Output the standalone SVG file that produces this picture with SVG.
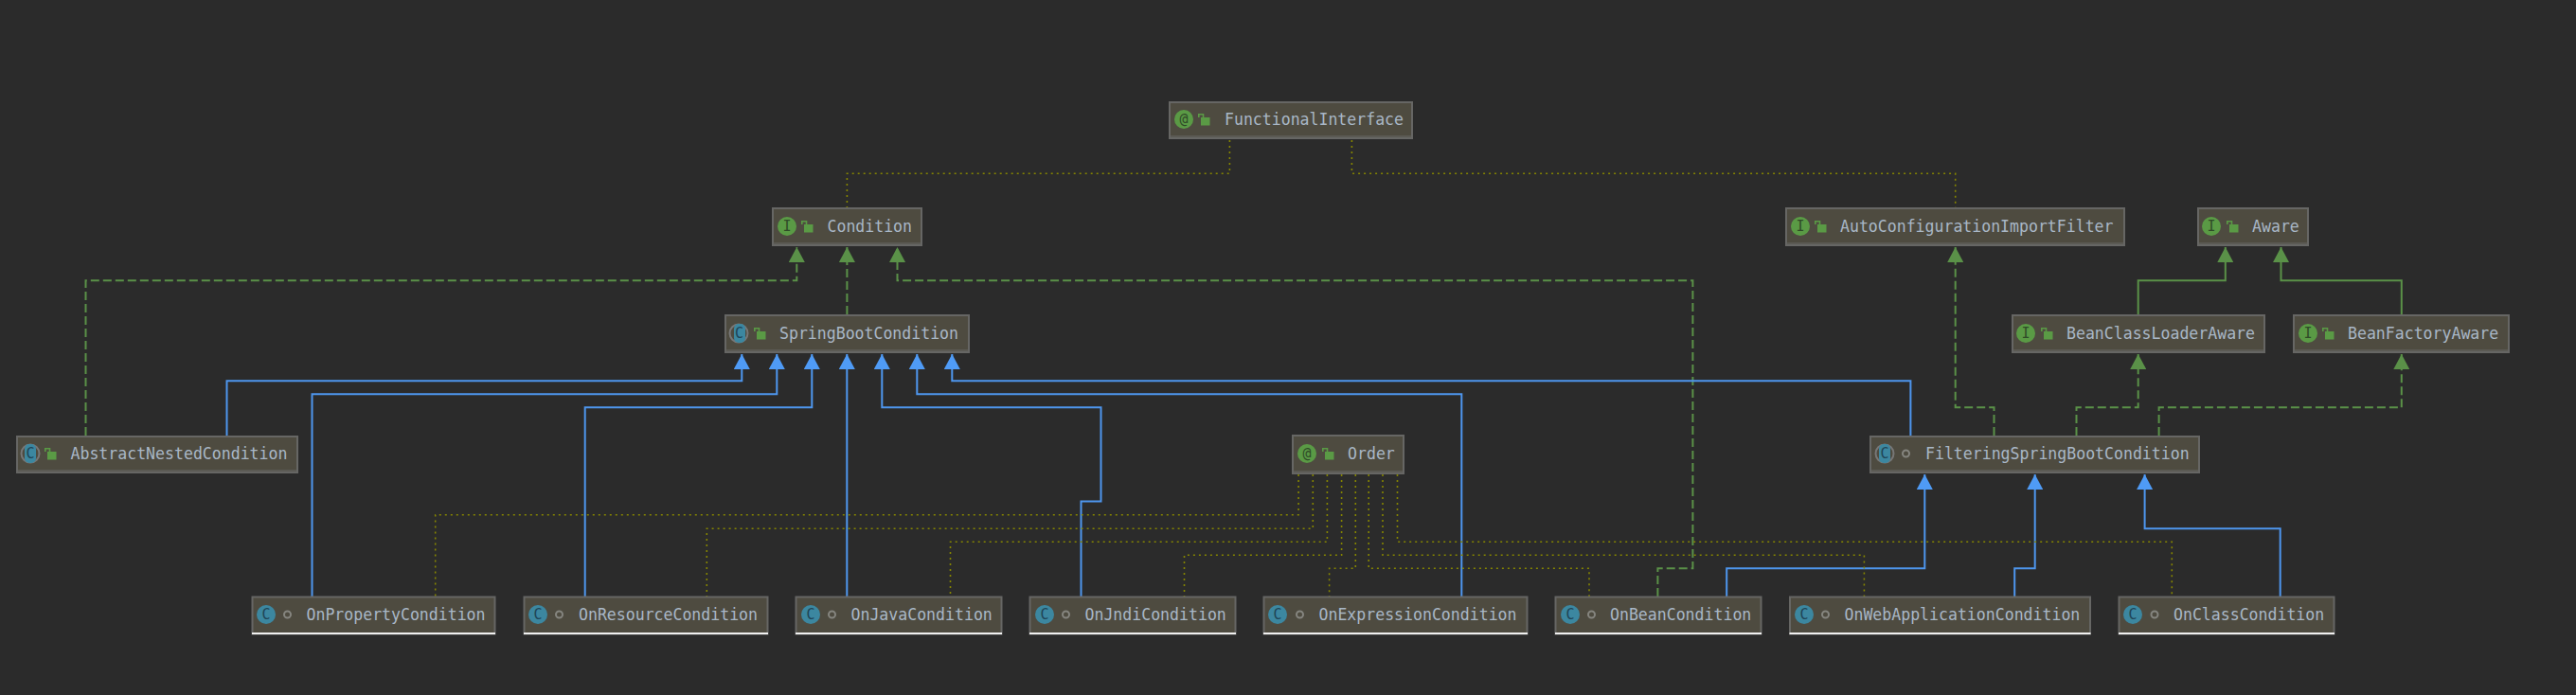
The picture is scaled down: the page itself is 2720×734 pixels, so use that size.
<svg xmlns="http://www.w3.org/2000/svg" width="2720" height="734" viewBox="0 0 2720 734">
<style>
.bg{fill:#2b2b2b}
.box{fill:#4e4b40;stroke:#666664;stroke-width:2}
.strip{stroke:#5b5a54;stroke-width:2}
.under{stroke:#f0f0f0;stroke-width:2}
.name{font-family:"DejaVu Sans Mono","Liberation Mono",monospace;font-size:17.6px;fill:#a9b7c6}
.gl{font-family:"DejaVu Sans Mono","Liberation Mono",monospace;font-size:15px;text-anchor:middle}
.gi{fill:#5a9a45}.gt{fill:#2f4a28}
.ti{fill:#3c87a0}.tt{fill:#1f4456}
.par{fill:none;stroke:#777;stroke-width:2}
.lockb{fill:#5a9a45}.lockh{fill:none;stroke:#5a9a45;stroke-width:1.6}
.pkg{fill:none;stroke:#85857f;stroke-width:2}
.c{fill:none}
.ext{stroke:#4e96ee;stroke-width:2;marker-end:url(#ab)}
.ii{stroke:#5a9148;stroke-width:2;marker-end:url(#ag)}
.imp{stroke:#5a9148;stroke-width:2;stroke-dasharray:9 4;marker-end:url(#ag)}
.dep{stroke:#858500;stroke-width:1.6;stroke-dasharray:2 4}
</style>
<defs>
<marker id="ab" markerUnits="userSpaceOnUse" markerWidth="16" markerHeight="17" refX="16" refY="8.5" orient="auto"><path d="M0 0L16 8.500L0 17Z" fill="#4f9bf6"/></marker>
<marker id="ag" markerUnits="userSpaceOnUse" markerWidth="16" markerHeight="17" refX="16" refY="8.500" orient="auto"><path d="M0 0L16 8.500L0 17Z" fill="#5a9148"/></marker>
<g id="lock"><rect class="lockb" x="3" y="4" width="9.500" height="8.500"/><path class="lockh" d="M0.800 4V0.800H5.500V4"/></g>
<circle id="pk" class="pkg" r="3.500"/>
</defs>
<rect class="bg" width="2720" height="734"/>
<g id="connectors">
<path class="c dep" d="M1298.400 148V183.300H894.400V219"/>
<path class="c dep" d="M1427.400 148V183.300H2064.700V219"/>
<path class="c imp" d="M90.500 460V296.300H841.300V261"/>
<path class="c imp" d="M894.400 332V261"/>
<path class="c imp" d="M1750.400 630V600.300H1787.400V296.300H947.500V261"/>
<path class="c ext" d="M239.500 460V402.300H783.300V374"/>
<path class="c ext" d="M329.500 630V416.300H820.300V374"/>
<path class="c ext" d="M617.700 630V430.300H857.300V374"/>
<path class="c ext" d="M894.300 630V374"/>
<path class="c ext" d="M1141.500 630V529.500H1162.500V430.300H931.300V374"/>
<path class="c ext" d="M1543.300 630V416.300H968.300V374"/>
<path class="c ext" d="M2017.400 460V402.300H1005.300V374"/>
<path class="c ext" d="M1823.200 630V600.300H2032.300V501"/>
<path class="c ext" d="M2127.200 630V600.300H2148.700V501"/>
<path class="c ext" d="M2407.700 630V558.300H2264.600V501"/>
<path class="c ii" d="M2257.700 332V296.300H2349.800V261"/>
<path class="c ii" d="M2535.800 332V296.300H2408.500V261"/>
<path class="c imp" d="M2105.500 460V430.300H2064.700V261"/>
<path class="c imp" d="M2192.500 460V430.300H2257.700V374"/>
<path class="c imp" d="M2279.600 460V430.300H2535.800V374"/>
<path class="c dep" d="M1371.100 501V543.700H459.700V630"/>
<path class="c dep" d="M1386.300 501V558.300H746.300V630"/>
<path class="c dep" d="M1401.400 501V572.300H1003.500V630"/>
<path class="c dep" d="M1416.600 501V586.300H1250.500V630"/>
<path class="c dep" d="M1431.300 501V600.300H1403.600V630"/>
<path class="c dep" d="M1445.200 501V600.300H1678V630"/>
<path class="c dep" d="M1460 501V586.300H1968.400V630"/>
<path class="c dep" d="M1475.500 501V572.300H2293.300V630"/>
</g>
<g id="FunctionalInterface"><rect class="box" x="1235" y="108" width="256" height="38"/><path class="strip" d="M1236 144H1490"/><circle class="gi" cx="1250" cy="126" r="10"/><text class="gl gt" x="1250" y="131">@</text><use href="#lock" x="1265" y="120"/><text class="name" x="1293" y="132" textLength="189" lengthAdjust="spacingAndGlyphs">FunctionalInterface</text></g>
<g id="Condition"><rect class="box" x="816" y="220" width="157" height="39"/><path class="strip" d="M817 257H972"/><circle class="gi" cx="831" cy="239" r="10"/><text class="gl gt" x="831" y="244">I</text><use href="#lock" x="846" y="233"/><text class="name" x="873.500" y="245" textLength="89.500" lengthAdjust="spacingAndGlyphs">Condition</text></g>
<g id="AutoConfigurationImportFilter"><rect class="box" x="1886" y="220" width="357" height="39"/><path class="strip" d="M1887 257H2242"/><circle class="gi" cx="1901" cy="239" r="10"/><text class="gl gt" x="1901" y="244">I</text><use href="#lock" x="1916" y="233"/><text class="name" x="1943" y="245" textLength="288.500" lengthAdjust="spacingAndGlyphs">AutoConfigurationImportFilter</text></g>
<g id="Aware"><rect class="box" x="2321" y="220" width="116" height="39"/><path class="strip" d="M2322 257H2436"/><circle class="gi" cx="2335" cy="239" r="10"/><text class="gl gt" x="2335" y="244">I</text><use href="#lock" x="2351" y="233"/><text class="name" x="2378" y="245" textLength="49.800" lengthAdjust="spacingAndGlyphs">Aware</text></g>
<g id="SpringBootCondition"><rect class="box" x="766" y="333" width="257" height="39"/><path class="strip" d="M767 370H1022"/><circle class="par" cx="780" cy="352" r="9.500"/><rect class="ti" x="775" y="342" width="12" height="20" rx="5"/><text class="gl tt" x="780.500" y="357">C</text><use href="#lock" x="796" y="346"/><text class="name" x="823" y="358" textLength="189" lengthAdjust="spacingAndGlyphs">SpringBootCondition</text></g>
<g id="BeanClassLoaderAware"><rect class="box" x="2125" y="333" width="266" height="39"/><path class="strip" d="M2126 370H2390"/><circle class="gi" cx="2139" cy="352" r="10"/><text class="gl gt" x="2139" y="357">I</text><use href="#lock" x="2155" y="346"/><text class="name" x="2182" y="358" textLength="199" lengthAdjust="spacingAndGlyphs">BeanClassLoaderAware</text></g>
<g id="BeanFactoryAware"><rect class="box" x="2422" y="333" width="227" height="39"/><path class="strip" d="M2423 370H2648"/><circle class="gi" cx="2437" cy="352" r="10"/><text class="gl gt" x="2437" y="357">I</text><use href="#lock" x="2452" y="346"/><text class="name" x="2479" y="358" textLength="159.200" lengthAdjust="spacingAndGlyphs">BeanFactoryAware</text></g>
<g id="AbstractNestedCondition"><rect class="box" x="18" y="461" width="296" height="38"/><path class="strip" d="M19 497H313"/><circle class="par" cx="32" cy="479" r="9.500"/><rect class="ti" x="26" y="469" width="12" height="20" rx="5"/><text class="gl tt" x="32" y="484">C</text><use href="#lock" x="47" y="473"/><text class="name" x="74.500" y="485" textLength="228.900" lengthAdjust="spacingAndGlyphs">AbstractNestedCondition</text></g>
<g id="Order"><rect class="box" x="1365" y="460" width="117" height="40"/><path class="strip" d="M1366 498H1481"/><circle class="gi" cx="1380" cy="479" r="10"/><text class="gl gt" x="1380" y="484">@</text><use href="#lock" x="1396" y="473"/><text class="name" x="1423" y="485" textLength="49.800" lengthAdjust="spacingAndGlyphs">Order</text></g>
<g id="FilteringSpringBootCondition"><rect class="box" x="1975" y="461" width="347" height="38"/><path class="strip" d="M1976 497H2321"/><circle class="par" cx="1990" cy="479" r="9.500"/><rect class="ti" x="1984" y="469" width="12" height="20" rx="5"/><text class="gl tt" x="1990" y="484">C</text><use href="#pk" x="2012.500" y="479"/><text class="name" x="2033" y="485" textLength="278.600" lengthAdjust="spacingAndGlyphs">FilteringSpringBootCondition</text></g>
<g id="OnPropertyCondition"><rect class="box" x="266.500" y="630.500" width="256" height="39"/><path class="under" d="M266 669H523"/><circle class="ti" cx="281" cy="649" r="10"/><text class="gl tt" x="281" y="654">C</text><use href="#pk" x="303.500" y="649"/><text class="name" x="323.500" y="655" textLength="189" lengthAdjust="spacingAndGlyphs">OnPropertyCondition</text></g>
<g id="OnResourceCondition"><rect class="box" x="553.500" y="630.500" width="257" height="39"/><path class="under" d="M553 669H811"/><circle class="ti" cx="568" cy="649" r="10"/><text class="gl tt" x="568" y="654">C</text><use href="#pk" x="590.500" y="649"/><text class="name" x="611" y="655" textLength="189" lengthAdjust="spacingAndGlyphs">OnResourceCondition</text></g>
<g id="OnJavaCondition"><rect class="box" x="840.500" y="630.500" width="217" height="39"/><path class="under" d="M840 669H1058"/><circle class="ti" cx="856" cy="649" r="10"/><text class="gl tt" x="856" y="654">C</text><use href="#pk" x="878.500" y="649"/><text class="name" x="898.500" y="655" textLength="149.300" lengthAdjust="spacingAndGlyphs">OnJavaCondition</text></g>
<g id="OnJndiCondition"><rect class="box" x="1087.500" y="630.500" width="217" height="39"/><path class="under" d="M1087 669H1305"/><circle class="ti" cx="1103" cy="649" r="10"/><text class="gl tt" x="1103" y="654">C</text><use href="#pk" x="1125.500" y="649"/><text class="name" x="1145.500" y="655" textLength="149.300" lengthAdjust="spacingAndGlyphs">OnJndiCondition</text></g>
<g id="OnExpressionCondition"><rect class="box" x="1334.500" y="630.500" width="278" height="39"/><path class="under" d="M1334 669H1613"/><circle class="ti" cx="1349" cy="649" r="10"/><text class="gl tt" x="1349" y="654">C</text><use href="#pk" x="1372.500" y="649"/><text class="name" x="1392.500" y="655" textLength="209" lengthAdjust="spacingAndGlyphs">OnExpressionCondition</text></g>
<g id="OnBeanCondition"><rect class="box" x="1642.500" y="630.500" width="217" height="39"/><path class="under" d="M1642 669H1860"/><circle class="ti" cx="1658" cy="649" r="10"/><text class="gl tt" x="1658" y="654">C</text><use href="#pk" x="1680.500" y="649"/><text class="name" x="1700" y="655" textLength="149.300" lengthAdjust="spacingAndGlyphs">OnBeanCondition</text></g>
<g id="OnWebApplicationCondition"><rect class="box" x="1890" y="630.500" width="317" height="39"/><path class="under" d="M1889.500 669H2207.500"/><circle class="ti" cx="1905" cy="649" r="10"/><text class="gl tt" x="1905" y="654">C</text><use href="#pk" x="1927.500" y="649"/><text class="name" x="1947.500" y="655" textLength="248.800" lengthAdjust="spacingAndGlyphs">OnWebApplicationCondition</text></g>
<g id="OnClassCondition"><rect class="box" x="2237.500" y="630.500" width="227" height="39"/><path class="under" d="M2237 669H2465"/><circle class="ti" cx="2252" cy="649" r="10"/><text class="gl tt" x="2252" y="654">C</text><use href="#pk" x="2275" y="649"/><text class="name" x="2295" y="655" textLength="159.200" lengthAdjust="spacingAndGlyphs">OnClassCondition</text></g>
</svg>
